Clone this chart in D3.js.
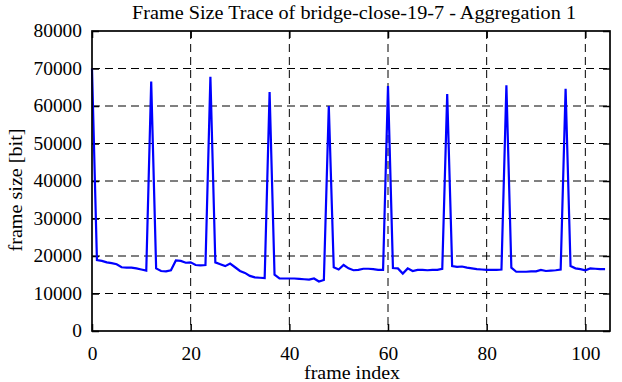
<!DOCTYPE html>
<html><head><meta charset="utf-8">
<script src="https://cdn.jsdelivr.net/npm/d3@7"></script>
<style>
html,body{margin:0;padding:0;background:#fff;}
svg text{font-family:"Liberation Serif","Times New Roman",serif !important;fill:#000;}
</style></head>
<body><svg id="c" width="622" height="382"></svg>
<script>
const title = "Frame Size Trace of bridge-close-19-7 - Aggregation 1";
const xLabel = "frame index";
const yLabel = "frame size [bit]";
const xTicks = [0, 20, 40, 60, 80, 100];
const yTicks = [0, 10000, 20000, 30000, 40000, 50000, 60000, 70000, 80000];
const frameSizes = [
 70000,18900,18700,18300,18100,17800,17000,16900,16900,16700,16400,16100,
 66500,16700,16000,15900,16200,18800,18700,18200,18300,17600,17500,17600,
 67800,18300,17800,17300,18000,17000,16000,15500,14700,14300,14200,14100,
 63700,15000,14000,14000,14000,14000,13900,13800,13700,14000,13200,13600,
 60000,17000,16400,17600,16700,16200,16300,16600,16600,16500,16300,16300,
 65300,16800,16700,15300,16700,16000,16300,16300,16200,16300,16300,16600,
 63200,17300,17100,17200,16900,16700,16500,16400,16300,16300,16300,16400,
 65500,16900,15800,15800,15800,15900,15900,16300,16000,16100,16200,16400,
 64600,17300,16700,16500,16200,16700,16600,16500,16500
];
const frameIndex = frameSizes.map((d,i)=>i);

const L=92, R=610, T=31, B=331;
const svg = d3.select("#c");
const x = d3.scaleLinear().domain([0,105]).range([L,R]);
const y = d3.scaleLinear().domain([0,80000]).range([B,T]);
const fmt = d3.format("d");

// grid
const g = svg.append("g");
g.selectAll("line.gx").data(xTicks.filter(t=>t>0)).enter().append("line")
 .attr("x1",d=>x(d)).attr("x2",d=>x(d)).attr("y1",T).attr("y2",B)
 .attr("stroke","#000").attr("stroke-width",1).attr("stroke-dasharray","8,5");
g.selectAll("line.gy").data(yTicks.filter(t=>t>0&&t<80000)).enter().append("line")
 .attr("x1",L).attr("x2",R).attr("y1",d=>y(d)).attr("y2",d=>y(d))
 .attr("stroke","#000").attr("stroke-width",1).attr("stroke-dasharray","8,5");

// axes with inward ticks
const tl = 7;
const axB = svg.append("g").attr("transform",`translate(0,${B})`)
 .call(d3.axisBottom(x).tickValues(xTicks).tickSize(-tl).tickPadding(16).tickFormat(fmt));
const axT = svg.append("g").attr("transform",`translate(0,${T})`)
 .call(d3.axisTop(x).tickValues(xTicks).tickSize(-tl).tickFormat(""));
const axL = svg.append("g").attr("transform",`translate(${L},0)`)
 .call(d3.axisLeft(y).tickValues(yTicks).tickSize(-tl).tickPadding(10).tickFormat(fmt));
const axR = svg.append("g").attr("transform",`translate(${R},0)`)
 .call(d3.axisRight(y).tickValues(yTicks).tickSize(-tl).tickFormat(""));
[axB,axT,axL,axR].forEach(a=>{
 a.attr("font-family",'"Liberation Serif",serif').attr("font-size",18);
 a.select(".domain").remove();
 a.selectAll(".tick line").attr("stroke","#000").attr("stroke-width",1.5);
 a.selectAll("text").attr("fill","#000")
  .attr("textLength",function(){return this.textContent.length*9.7;})
  .attr("lengthAdjust","spacingAndGlyphs");
});

// data line
const line = d3.line().x((d,i)=>x(frameIndex[i])).y(d=>y(d));
svg.append("path").datum(frameSizes).attr("d",line)
 .attr("fill","none").attr("stroke","#0000ff").attr("stroke-width",2.2).attr("stroke-linejoin","miter");

// frame
svg.append("rect").attr("x",L).attr("y",T).attr("width",R-L).attr("height",B-T)
 .attr("fill","none").attr("stroke","#000").attr("stroke-width",1.7);

// labels
svg.append("text").attr("x",(L+R)/2+3).attr("y",19).attr("text-anchor","middle")
 .attr("font-size",19).attr("textLength",444).attr("lengthAdjust","spacingAndGlyphs").text(title);
svg.append("text").attr("x",(L+R)/2+1).attr("y",379).attr("text-anchor","middle")
 .attr("font-size",19).attr("textLength",96).attr("lengthAdjust","spacingAndGlyphs").text(xLabel);
svg.append("text").attr("transform",`translate(22,190) rotate(-90)`).attr("text-anchor","middle")
 .attr("font-size",19).attr("textLength",123).attr("lengthAdjust","spacingAndGlyphs").text(yLabel);
</script></body></html>
